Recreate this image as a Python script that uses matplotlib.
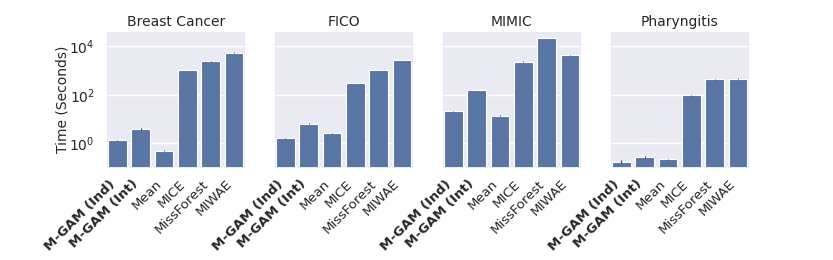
import numpy as np
import matplotlib.pyplot as plt
import seaborn as sns

sns.set_theme(style='darkgrid')

methods = ['M-GAM (Ind)', 'M-GAM (Int)', 'Mean', 'MICE', 'MissForest', 'MIWAE']
datasets = ['Breast Cancer', 'FICO', 'MIMIC', 'Pharyngitis']

# mean runtime in seconds
times = {
    'Breast Cancer': [1.3, 3.8, 0.48, 1050, 2400, 5600],
    'FICO': [1.55, 6.3, 2.5, 300, 1050, 2800],
    'MIMIC': [21, 158, 13.8, 2330, 22000, 4260],
    'Pharyngitis': [0.17, 0.27, 0.21, 95, 436, 460],
}
# relative error (fraction of the mean)
rel_err = {
    'Breast Cancer': [0.05, 0.06, 0.06, 0.03, 0.03, 0.03],
    'FICO': [0.04, 0.04, 0.03, 0.02, 0.02, 0.02],
    'MIMIC': [0.04, 0.03, 0.03, 0.02, 0.02, 0.02],
    'Pharyngitis': [0.12, 0.12, 0.06, 0.03, 0.03, 0.03],
}

fig, axs = plt.subplots(1, 4, figsize=(8.33, 2.6), dpi=100, sharey=True)
x = np.arange(len(methods))
for ax, name in zip(axs, datasets):
    y = np.array(times[name])
    err = y * np.array(rel_err[name])
    ax.bar(x, y, width=0.8, color='#5975a4', edgecolor='white', linewidth=0.8,
           yerr=err, error_kw=dict(ecolor='#444444', elinewidth=0.8, capsize=0))
    ax.set_yscale('log')
    ax.set_title(name, fontsize=10, pad=4)
    ax.set_xlim(-0.5, len(methods) - 0.5)
    ax.set_xticks(x)
    ax.set_xticklabels(methods, rotation=45, ha='right', fontsize=9.5)
    for lbl in ax.get_xticklabels()[:2]:
        lbl.set_fontweight('bold')
    ax.tick_params(axis='x', pad=1)
    ax.grid(axis='x', visible=False)
    ax.minorticks_off()
    ax.set_yticks([1, 1e2, 1e4])

axs[0].set_ylim(10 ** -1.02, 10 ** 4.63)
axs[0].set_ylabel('Time (Seconds)', fontsize=10, labelpad=0)
axs[0].tick_params(axis='y', labelsize=10, pad=2)
for ax in axs[1:]:
    ax.tick_params(axis='y', left=False, labelleft=False)

fig.subplots_adjust(left=0.127, right=0.9, top=0.88, bottom=0.355, wspace=0.2)
fig.savefig('out.png', dpi=100)
